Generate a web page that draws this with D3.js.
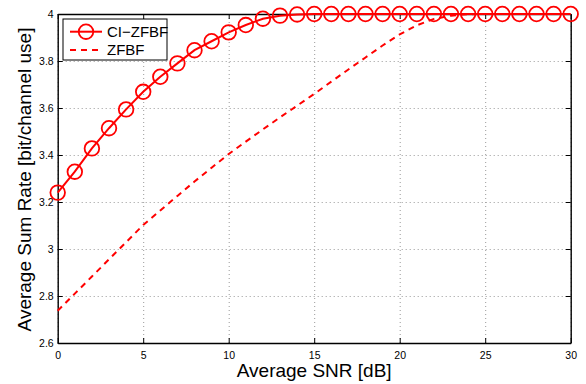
<!DOCTYPE html>
<html>
<head>
<meta charset="utf-8">
<script src="https://cdn.jsdelivr.net/npm/d3@7"></script>
<style>
  body { margin: 0; background: #fff; }
  text { font-family: "Liberation Sans", Arial, Helvetica, sans-serif; }
  .axis path, .axis line { stroke: #000; }
  .grid line { stroke: #999; stroke-dasharray: 1,3; }
  .grid path { display: none; }
</style>
</head>
<body>
<div id="chart"></div>
<script>
// Data.
var snr = [0, 1, 2, 3, 4, 5, 6, 7, 8, 9, 10, 11, 12, 13, 14, 15, 16, 17, 18, 19, 20,
           21, 22, 23, 24, 25, 26, 27, 28, 29, 30];
var ciZfbf = [3.240, 3.329, 3.428, 3.514, 3.594, 3.669, 3.733, 3.790, 3.846, 3.884, 3.922,
              3.953, 3.980, 3.993, 3.998, 4.0, 4.0, 4.0, 4.0, 4.0, 4.0,
              4.0, 4.0, 4.0, 4.0, 4.0, 4.0, 4.0, 4.0, 4.0, 4.0];
var zfbf = [2.737, 2.810, 2.883, 2.956, 3.029, 3.102, 3.164, 3.226, 3.287, 3.346, 3.404,
            3.457, 3.509, 3.560, 3.610, 3.660, 3.712, 3.764, 3.815, 3.866, 3.913,
            3.952, 3.979, 3.993, 3.999, 4.0, 4.0, 4.0, 4.0, 4.0, 4.0];
var seriesNames = ["CI\u2212ZFBF", "ZFBF"];
var xTicks = [0, 5, 10, 15, 20, 25, 30];
var yTicks = [2.6, 2.8, 3, 3.2, 3.4, 3.6, 3.8, 4];
var yTickLabels = ["2.6", "2.8", "3", "3.2", "3.4", "3.6", "3.8", "4"];

// Chart dimensions.
var W = 586, H = 384;
var margin = {top: 14, right: 15.3, bottom: 41, left: 57.7},
    width = W - margin.left - margin.right,
    height = H - margin.top - margin.bottom;

var xScale = d3.scaleLinear().domain([0, 30]).range([0, width]);
var yScale = d3.scaleLinear().domain([2.6, 4]).range([height, 0]);

var svg = d3.select("#chart").append("svg")
    .attr("width", W)
    .attr("height", H)
  .append("g")
    .attr("transform", "translate(" + margin.left + "," + margin.top + ")");

// Dotted grid.
svg.append("g")
    .attr("class", "grid")
    .attr("transform", "translate(0," + height + ")")
    .call(d3.axisBottom(xScale).tickValues(xTicks).tickSize(-height).tickFormat(""));
svg.append("g")
    .attr("class", "grid")
    .call(d3.axisLeft(yScale).tickValues(yTicks).tickSize(-width).tickFormat(""));

// Axes, ticks point inward on all four sides.
var yFmt = function(d) { return yTickLabels[yTicks.indexOf(d)]; };
svg.append("g")
    .attr("class", "axis")
    .attr("transform", "translate(0," + height + ")")
    .call(d3.axisBottom(xScale).tickValues(xTicks).tickSizeInner(-5).tickSizeOuter(0).tickPadding(9));
svg.append("g")
    .attr("class", "axis")
    .call(d3.axisTop(xScale).tickValues(xTicks).tickSizeInner(-5).tickSizeOuter(0).tickFormat(""));
svg.append("g")
    .attr("class", "axis")
    .call(d3.axisLeft(yScale).tickValues(yTicks).tickFormat(yFmt).tickSizeInner(-5).tickSizeOuter(0).tickPadding(4));
svg.append("g")
    .attr("class", "axis")
    .attr("transform", "translate(" + width + ",0)")
    .call(d3.axisRight(yScale).tickValues(yTicks).tickSizeInner(-5).tickSizeOuter(0).tickFormat(""));
svg.selectAll(".axis path").attr("stroke-width", 1.4);
svg.selectAll(".axis text").attr("font-size", 10.5).attr("fill", "#000")
    .attr("font-family", "'Liberation Sans', Arial, sans-serif");

// Axis labels.
svg.append("text")
    .attr("text-anchor", "middle")
    .attr("x", width / 2)
    .attr("y", height + 34)
    .attr("font-size", 19)
    .text("Average SNR [dB]");
svg.append("text")
    .attr("text-anchor", "middle")
    .attr("transform", "translate(" + (31 - margin.left) + "," + (height / 2 + 1) + ") rotate(-90)")
    .attr("font-size", 19)
    .text("Average Sum Rate [bit/channel use]");

// Lines.
var line = function(vals) {
  return d3.line()
      .x(function(d, i) { return xScale(snr[i]); })
      .y(function(d) { return yScale(d); })(vals);
};
svg.append("path")
    .attr("d", line(zfbf))
    .attr("fill", "none")
    .attr("stroke", "#ff0000")
    .attr("stroke-width", 2)
    .attr("stroke-dasharray", "6,5");
svg.append("path")
    .attr("d", line(ciZfbf))
    .attr("fill", "none")
    .attr("stroke", "#ff0000")
    .attr("stroke-width", 2);
svg.append("g").selectAll("circle")
    .data(ciZfbf)
    .enter().append("circle")
    .attr("cx", function(d, i) { return xScale(snr[i]); })
    .attr("cy", function(d) { return yScale(d); })
    .attr("r", 7.3)
    .attr("fill", "none")
    .attr("stroke", "#ff0000")
    .attr("stroke-width", 1.8);

// Legend.
var lg = svg.append("g").attr("transform", "translate(" + (63 - margin.left) + "," + (19 - margin.top) + ")");
lg.append("rect")
    .attr("width", 104).attr("height", 41)
    .attr("fill", "#fff").attr("stroke", "#000").attr("stroke-width", 1);
lg.append("line")
    .attr("x1", 7).attr("x2", 39).attr("y1", 12.7).attr("y2", 12.7)
    .attr("stroke", "#ff0000").attr("stroke-width", 2);
lg.append("circle")
    .attr("cx", 23).attr("cy", 12.7).attr("r", 7.3)
    .attr("fill", "none").attr("stroke", "#ff0000").attr("stroke-width", 1.8);
lg.append("line")
    .attr("x1", 7).attr("x2", 39).attr("y1", 31).attr("y2", 31)
    .attr("stroke", "#ff0000").attr("stroke-width", 2).attr("stroke-dasharray", "6,5");
lg.selectAll("text.lbl")
    .data(seriesNames)
    .enter().append("text")
    .attr("class", "lbl")
    .attr("x", 44)
    .attr("y", function(d, i) { return 18 + i * 18.3; })
    .attr("font-size", 15)
    .text(function(d) { return d; });
</script>
</body>
</html>
